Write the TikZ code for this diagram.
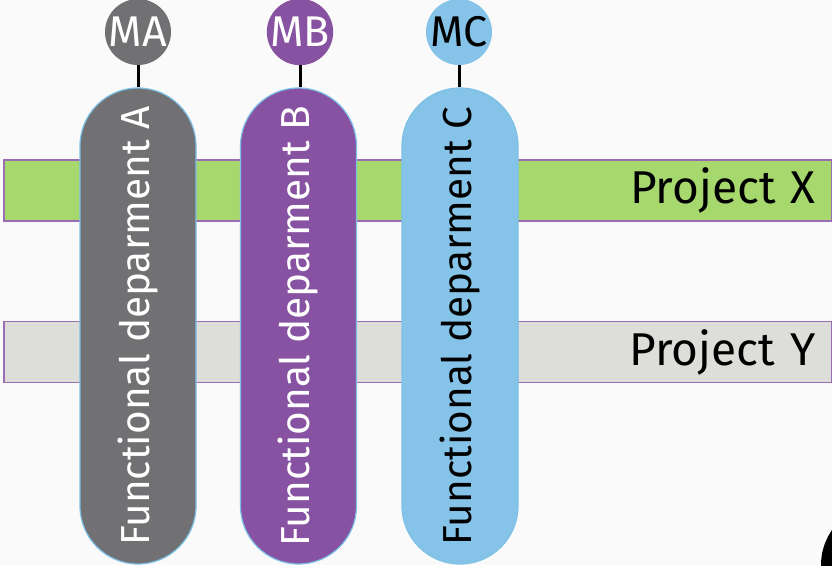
\documentclass[tikz,border=0pt]{standalone}
\usepackage{fontspec}
\setmainfont{Fira Sans}
\usetikzlibrary{shapes.misc}
\definecolor{bgc}{HTML}{FAFAFA}
\definecolor{projx}{HTML}{A6D86E}
\definecolor{projy}{HTML}{DDDDDA}
\definecolor{projedge}{HTML}{9A6CB4}
\definecolor{deptA}{HTML}{717174}
\definecolor{deptB}{HTML}{8752A1}
\definecolor{deptC}{HTML}{85C3E8}
\definecolor{pilledge}{HTML}{7EC0E6}
\tikzset{
  project/.style={draw=projedge, line width=1.6pt, minimum width=828pt, minimum height=61pt,
    inner sep=0pt, anchor=west, font=\fontsize{46}{46}\selectfont, text=black,
    text width=796pt, align=right},
  pill/.style={rounded rectangle, draw=pilledge, line width=1.2pt, rotate=90,
    minimum width=476pt, minimum height=116pt, inner sep=0pt, font=\fontsize{40.5}{40.5}\selectfont},
  manager/.style={circle, minimum size=66pt, inner sep=0pt, font=\fontsize{43}{43}\selectfont},
  link/.style={line width=3pt, black}
}
\begin{document}
\begin{tikzpicture}[x=1pt, y=-1pt]
  \fill[bgc] (0,0) rectangle (832,565);
  \useasboundingbox (0,0) rectangle (832,565);

  % project bars
  \node[project, fill=projx] (px) at (3,190.5) {\raisebox{-4pt}{Project X}};
  \node[project, fill=projy] (py) at (3,352) {\raisebox{-4pt}{Project Y}};

  % functional departments
  \node[pill, fill=deptA, text=white] (pa) at (138,326) {Functional deparment A};
  \node[pill, fill=deptB, text=white] (pb) at (298.5,326) {Functional deparment B};
  \node[pill, fill=deptC, text=black] (pc) at (460,326) {Functional deparment C};

  % managers
  \node[manager, fill=deptA, text=white] (ma) at (138,32) {MA};
  \node[manager, fill=deptB, text=white] (mb) at (300,32) {MB};
  \node[manager, fill=deptC, text=black] (mc) at (459,32) {MC};

  \draw[link] (ma.south) -- (ma.south |- pa.east);
  \draw[link] (mb.south) -- (mb.south |- pb.east);
  \draw[link] (mc.south) -- (mc.south |- pc.east);

  % partial shape at the lower right corner
  \fill[black] (882,565) circle (61);
\end{tikzpicture}
\end{document}
